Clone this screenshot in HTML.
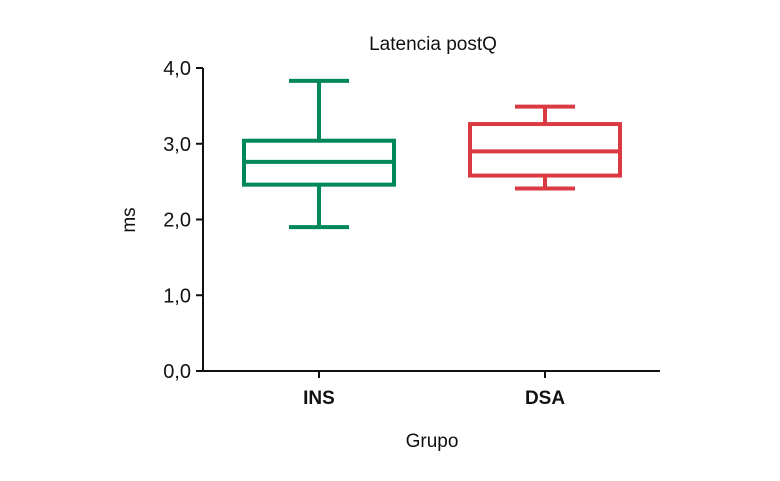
<!DOCTYPE html>
<html><head><meta charset="utf-8"><style>
html,body{margin:0;padding:0;background:#fff;}
svg{display:block;font-family:"Liberation Sans",sans-serif;}
</style></head><body>
<svg id="chart" width="780" height="481" viewBox="0 0 780 481">
<text x="433" y="50" text-anchor="middle" font-size="19" fill="#111">Latencia postQ</text>
<g id="axes"></g>
<g id="boxes"></g>
<text x="432" y="447" text-anchor="middle" font-size="19" fill="#111">Grupo</text>
<text transform="translate(135,220) rotate(-90)" text-anchor="middle" font-size="19" fill="#111">ms</text>
</svg>
<script>
const categories = ["INS","DSA"];
const whiskerMax = [3.83, 3.49];
const q3Values = [3.04, 3.26];
const medianValues = [2.76, 2.90];
const q1Values = [2.46, 2.58];
const whiskerMin = [1.90, 2.41];
const colors = ["#00875a","#dc3a42"];
const yTicks = [0,1,2,3,4];
const yTickLabels = ["0,0","1,0","2,0","3,0","4,0"];

const NS="http://www.w3.org/2000/svg";
const y0=371, yTop=68, yMax=4;
function yScale(v){return y0-(v/yMax)*(y0-yTop);}
const xLeft=203, xRight=660;
function xScale(i){return 319+i*226;}
function mk(tag,attrs,parent){const e=document.createElementNS(NS,tag);for(const k in attrs)e.setAttribute(k,attrs[k]);parent.appendChild(e);return e;}
const axes=document.getElementById('axes');
const yAxis=mk('line',{x1:xLeft,y1:yTop,x2:xLeft,y2:y0+1,stroke:'#111','stroke-width':2},axes);


const xAxis=mk('line',{x1:xLeft-1,y1:y0,x2:xRight,y2:y0,stroke:'#111','stroke-width':2},axes);


yTicks.forEach((t,i)=>{
  const y=yScale(t);
  const tk=mk('line',{x1:xLeft-7,y1:y,x2:xLeft,y2:y,stroke:'#111','stroke-width':2},axes);
  
  
  const lb=mk('text',{x:xLeft-12,y:y+7,'text-anchor':'end','font-size':20,fill:'#111'},axes);
  lb.textContent=yTickLabels[i];
  
  
});
categories.forEach((c,i)=>{
  const x=xScale(i);
  const tk=mk('line',{x1:x,y1:y0,x2:x,y2:y0+7,stroke:'#111','stroke-width':2},axes);
  
  
  const lb=mk('text',{x:x,y:y0+33,'text-anchor':'middle','font-size':19,'font-weight':'bold',fill:'#111'},axes);
  lb.textContent=c;
  
  
});
const boxes=document.getElementById('boxes');
categories.forEach((c,i)=>{
  const x=xScale(i), hw=75, cw=30, col=colors[i];
  const g=mk('g',{stroke:col,'stroke-width':4,fill:'none'},boxes);
  
  
  mk('line',{x1:x,y1:yScale(whiskerMax[i]),x2:x,y2:yScale(q3Values[i])},g);
  mk('line',{x1:x-cw,y1:yScale(whiskerMax[i]),x2:x+cw,y2:yScale(whiskerMax[i])},g);
  mk('line',{x1:x,y1:yScale(q1Values[i]),x2:x,y2:yScale(whiskerMin[i])},g);
  mk('line',{x1:x-cw,y1:yScale(whiskerMin[i]),x2:x+cw,y2:yScale(whiskerMin[i])},g);
  mk('rect',{x:x-hw,y:yScale(q3Values[i]),width:2*hw,height:yScale(q1Values[i])-yScale(q3Values[i])},g);
  mk('line',{x1:x-hw,y1:yScale(medianValues[i]),x2:x+hw,y2:yScale(medianValues[i])},g);
});
</script>
</body></html>
